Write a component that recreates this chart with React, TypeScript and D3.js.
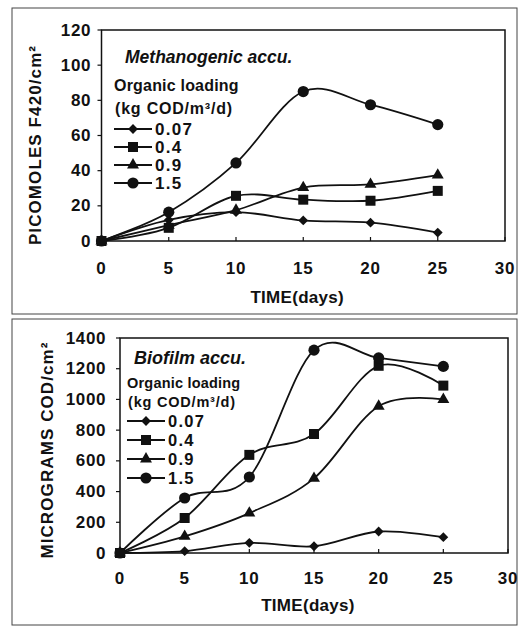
import * as d3 from "d3";

const days = [0, 5, 10, 15, 20, 25];
const xTicks = [0, 5, 10, 15, 20, 25, 30];
const loadingLabels = ["0.07", "0.4", "0.9", "1.5"];
const markerShapes = ["diamond", "square", "triangle", "circle"];

// Methanogenic accumulation (picomoles F420/cm2)
const f420Load007 = [0, 12, 16.4, 11.7, 10.4, 4.8];
const f420Load04 = [0, 7.5, 25.7, 23.5, 22.9, 28.5];
const f420Load09 = [0, 9, 17.5, 30.4, 32.2, 37.5];
const f420Load15 = [0, 16.4, 44.4, 85, 77.5, 66.2];
const f420Ticks = [0, 20, 40, 60, 80, 100, 120];

// Biofilm accumulation (micrograms COD/cm2)
const codLoad007 = [0, 12, 66, 44, 140, 103];
const codLoad04 = [0, 228, 639, 775, 1219, 1090];
const codLoad09 = [0, 108, 260, 486, 956, 1000];
const codLoad15 = [0, 358, 495, 1321, 1270, 1215];
const codTicks = [0, 200, 400, 600, 800, 1000, 1200, 1400];

const FONT = '"Liberation Sans", Arial, sans-serif';

function Marker({ shape, x, y }) {
  if (shape === "circle") return <circle cx={x} cy={y} r={5.6} fill="#111" />;
  if (shape === "square") {
    const p = d3.symbol(d3.symbolSquare, 100)();
    return <path d={p} transform={`translate(${x},${y})`} fill="#111" />;
  }
  if (shape === "triangle") {
    const p = d3.symbol(d3.symbolTriangle, 62)();
    return <path d={p} transform={`translate(${x},${y})`} fill="#111" />;
  }
  const p = d3.symbol(d3.symbolSquare, 48)();
  return <path d={p} transform={`translate(${x},${y}) rotate(45)`} fill="#111" />;
}

function Panel({ frame, plot, yTicks, series, yTitle, yTitleX, yTitleY, yLabelX, xLabelY, xTitleY, heading, headingX, headingY, headingSize, legend }) {
  const x = d3.scaleLinear().domain([0, 30]).range([plot.left, plot.right]);
  const y = d3.scaleLinear().domain([0, yTicks[yTicks.length - 1]]).range([plot.bottom, plot.top]);
  const line = d3
    .line<number>()
    .x((_, i) => x(days[i]))
    .y((d) => y(d))
    .curve(d3.curveCatmullRom.alpha(0));

  return (
    <g fontFamily={FONT} fill="#111">
      <rect x={frame.x} y={frame.y} width={frame.w} height={frame.h} fill="none" stroke="#444" strokeWidth={1} />
      <rect
        x={plot.left}
        y={plot.top}
        width={plot.right - plot.left}
        height={plot.bottom - plot.top}
        fill="none"
        stroke="#111"
        strokeWidth={1.5}
      />
      {yTicks.map((t) => (
        <g key={t}>
          <line x1={plot.left - 4} x2={plot.left} y1={y(t)} y2={y(t)} stroke="#111" strokeWidth={1.2} />
          <text x={yLabelX} y={y(t)} textAnchor="end" dominantBaseline="central" fontSize={17} fontWeight="bold" letterSpacing={0.6}>
            {t}
          </text>
        </g>
      ))}
      {xTicks.map((t) => (
        <g key={t}>
          <line x1={x(t)} x2={x(t)} y1={plot.bottom} y2={plot.bottom - 4} stroke="#111" strokeWidth={1.2} />
          <text x={x(t)} y={xLabelY} textAnchor="middle" dominantBaseline="central" fontSize={17} fontWeight="bold" letterSpacing={0.8}>
            {t}
          </text>
        </g>
      ))}
      <text
        x={(plot.left + plot.right) / 2 - 6}
        y={xTitleY}
        textAnchor="middle"
        dominantBaseline="central"
        fontSize={17}
        fontWeight="bold"
        letterSpacing={0.3}
      >
        TIME(days)
      </text>
      <text
        transform={`translate(${yTitleX},${yTitleY}) rotate(-90)`}
        textAnchor="middle"
        dominantBaseline="central"
        fontSize={17}
        fontWeight="bold"
        letterSpacing={1.1}
      >
        {yTitle}
      </text>
      <text x={headingX} y={headingY} dominantBaseline="central" fontSize={headingSize} fontWeight="bold" fontStyle="italic">
        {heading}
      </text>
      <text x={legend.textLeft} y={legend.line1Y} dominantBaseline="central" fontSize={legend.size} fontWeight="bold" letterSpacing={0.2}>
        Organic loading
      </text>
      <text x={legend.textLeft + 1} y={legend.line2Y} dominantBaseline="central" fontSize={legend.size} fontWeight="bold" letterSpacing={0.8}>
        (kg COD/m³/d)
      </text>
      {series.map((s, i) => (
        <g key={i}>
          <path d={line(s) ?? ""} fill="none" stroke="#111" strokeWidth={1.8} />
          {s.map((v, j) => (
            <Marker key={j} shape={markerShapes[i]} x={x(days[j])} y={y(v)} />
          ))}
          <line
            x1={legend.lineX1}
            x2={legend.lineX2}
            y1={legend.rows[i]}
            y2={legend.rows[i]}
            stroke="#111"
            strokeWidth={1.8}
          />
          <Marker shape={markerShapes[i]} x={(legend.lineX1 + legend.lineX2) / 2} y={legend.rows[i]} />
          <text
            x={legend.lineX2 + 3}
            y={legend.rows[i]}
            dominantBaseline="central"
            fontSize={legend.numSize}
            fontWeight="bold"
            letterSpacing={1.3}
          >
            {loadingLabels[i]}
          </text>
        </g>
      ))}
    </g>
  );
}

export default function App() {
  return (
    <svg width={532} height={627} style={{ position: "absolute", left: 0, top: 0, background: "#fff" }}>
      <rect x={0} y={0} width={532} height={627} fill="#fff" />
      <Panel
        frame={{ x: 12, y: 8, w: 505, h: 306 }}
        plot={{ left: 101.5, right: 505, top: 30, bottom: 241 }}
        yTicks={f420Ticks}
        series={[f420Load007, f420Load04, f420Load09, f420Load15]}
        yTitle="PICOMOLES F420/cm²"
        yTitleX={35}
        yTitleY={145}
        yLabelX={91}
        xLabelY={268}
        xTitleY={297}
        heading="Methanogenic accu."
        headingX={125}
        headingY={57}
        headingSize={17.5}
        legend={{
          textLeft: 114,
          line1Y: 85,
          line2Y: 108,
          size: 16,
          numSize: 17,
          lineX1: 114,
          lineX2: 152,
          rows: [129, 147, 165, 183]
        }}
      />
      <Panel
        frame={{ x: 12, y: 319, w: 505, h: 306 }}
        plot={{ left: 120, right: 508, top: 338, bottom: 553 }}
        yTicks={codTicks}
        series={[codLoad007, codLoad04, codLoad09, codLoad15]}
        yTitle="MICROGRAMS COD/cm²"
        yTitleX={47}
        yTitleY={450}
        yLabelX={106}
        xLabelY={578}
        xTitleY={605}
        heading="Biofilm accu."
        headingX={134}
        headingY={358}
        headingSize={18}
        legend={{
          textLeft: 127,
          line1Y: 383,
          line2Y: 402,
          size: 14.5,
          numSize: 16.5,
          lineX1: 127,
          lineX2: 165,
          rows: [421, 440, 459, 478]
        }}
      />
    </svg>
  );
}
